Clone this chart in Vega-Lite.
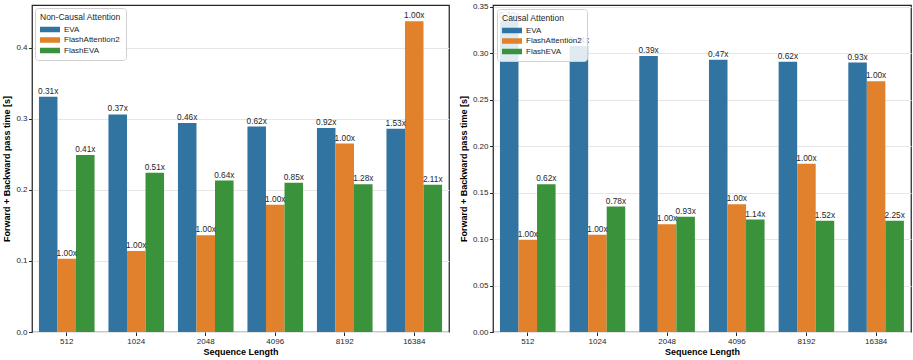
{
  "$schema": "https://vega.github.io/schema/vega-lite/v6.json",
  "padding": {"left": 2, "top": 2, "right": 4, "bottom": 0},
  "background": "white",
  "datasets": {
    "nc": [
      {"len": 512, "method": "EVA", "time": 0.331, "label": "0.31x"},
      {"len": 512, "method": "FlashAttention2", "time": 0.103, "label": "1.00x"},
      {"len": 512, "method": "FlashEVA", "time": 0.249, "label": "0.41x"},
      {"len": 1024, "method": "EVA", "time": 0.306, "label": "0.37x"},
      {"len": 1024, "method": "FlashAttention2", "time": 0.114, "label": "1.00x"},
      {"len": 1024, "method": "FlashEVA", "time": 0.224, "label": "0.51x"},
      {"len": 2048, "method": "EVA", "time": 0.294, "label": "0.46x"},
      {"len": 2048, "method": "FlashAttention2", "time": 0.136, "label": "1.00x"},
      {"len": 2048, "method": "FlashEVA", "time": 0.213, "label": "0.64x"},
      {"len": 4096, "method": "EVA", "time": 0.289, "label": "0.62x"},
      {"len": 4096, "method": "FlashAttention2", "time": 0.179, "label": "1.00x"},
      {"len": 4096, "method": "FlashEVA", "time": 0.21, "label": "0.85x"},
      {"len": 8192, "method": "EVA", "time": 0.287, "label": "0.92x"},
      {"len": 8192, "method": "FlashAttention2", "time": 0.265, "label": "1.00x"},
      {"len": 8192, "method": "FlashEVA", "time": 0.208, "label": "1.28x"},
      {"len": 16384, "method": "EVA", "time": 0.286, "label": "1.53x"},
      {"len": 16384, "method": "FlashAttention2", "time": 0.437, "label": "1.00x"},
      {"len": 16384, "method": "FlashEVA", "time": 0.207, "label": "2.11x"}
    ],
    "c": [
      {"len": 512, "method": "EVA", "time": 0.335, "label": "0.30x"},
      {"len": 512, "method": "FlashAttention2", "time": 0.099, "label": "1.00x"},
      {"len": 512, "method": "FlashEVA", "time": 0.159, "label": "0.62x"},
      {"len": 1024, "method": "EVA", "time": 0.308, "label": "0.34x"},
      {"len": 1024, "method": "FlashAttention2", "time": 0.1046, "label": "1.00x"},
      {"len": 1024, "method": "FlashEVA", "time": 0.135, "label": "0.78x"},
      {"len": 2048, "method": "EVA", "time": 0.297, "label": "0.39x"},
      {"len": 2048, "method": "FlashAttention2", "time": 0.116, "label": "1.00x"},
      {"len": 2048, "method": "FlashEVA", "time": 0.124, "label": "0.93x"},
      {"len": 4096, "method": "EVA", "time": 0.293, "label": "0.47x"},
      {"len": 4096, "method": "FlashAttention2", "time": 0.1376, "label": "1.00x"},
      {"len": 4096, "method": "FlashEVA", "time": 0.121, "label": "1.14x"},
      {"len": 8192, "method": "EVA", "time": 0.291, "label": "0.62x"},
      {"len": 8192, "method": "FlashAttention2", "time": 0.181, "label": "1.00x"},
      {"len": 8192, "method": "FlashEVA", "time": 0.1197, "label": "1.52x"},
      {"len": 16384, "method": "EVA", "time": 0.29, "label": "0.93x"},
      {"len": 16384, "method": "FlashAttention2", "time": 0.27, "label": "1.00x"},
      {"len": 16384, "method": "FlashEVA", "time": 0.1197, "label": "2.25x"}
    ]
  },
  "spacing": 8,
  "resolve": {"legend": {"color": "independent"}, "scale": {"y": "independent"}},
  "hconcat": [
    {
      "width": 417,
      "height": 327,
      "data": {"name": "nc"},
      "encoding": {
        "x": {"field": "len", "type": "ordinal", "title": "Sequence Length",
              "scale": {"paddingInner": 0.2, "paddingOuter": 0.1},
              "axis": {"labelAngle": 0}},
        "xOffset": {"field": "method", "type": "nominal", "sort": ["EVA", "FlashAttention2", "FlashEVA"],
                    "scale": {"paddingInner": 0, "paddingOuter": 0}},
        "y": {"field": "time", "type": "quantitative", "title": "Forward + Backward pass time [s]",
              "scale": {"domain": [0, 0.46], "nice": false},
              "axis": {"values": [0, 0.1, 0.2, 0.3, 0.4], "format": ".1f"}}
      },
      "layer": [
        {
          "mark": {"type": "bar"},
          "encoding": {
            "color": {"field": "method", "type": "nominal", "title": "Non-Causal Attention",
                      "scale": {"domain": ["EVA", "FlashAttention2", "FlashEVA"], "range": ["#3274a1", "#e1812c", "#3a923a"]},
                      "legend": {"orient": "top-left", "offset": 3}}
          }
        },
        {
          "mark": {"type": "text", "baseline": "bottom", "dy": -1, "fontSize": 8.3, "color": "#262626"},
          "encoding": {"text": {"field": "label"}}
        }
      ]
    },
    {
      "width": 418,
      "height": 327,
      "data": {"name": "c"},
      "encoding": {
        "x": {"field": "len", "type": "ordinal", "title": "Sequence Length",
              "scale": {"paddingInner": 0.2, "paddingOuter": 0.1},
              "axis": {"labelAngle": 0}},
        "xOffset": {"field": "method", "type": "nominal", "sort": ["EVA", "FlashAttention2", "FlashEVA"],
                    "scale": {"paddingInner": 0, "paddingOuter": 0}},
        "y": {"field": "time", "type": "quantitative", "title": "Forward + Backward pass time [s]",
              "scale": {"domain": [0, 0.352], "nice": false},
              "axis": {"values": [0, 0.05, 0.1, 0.15, 0.2, 0.25, 0.3, 0.35], "format": ".2f"}}
      },
      "layer": [
        {
          "mark": {"type": "bar"},
          "encoding": {
            "color": {"field": "method", "type": "nominal", "title": "Causal Attention",
                      "scale": {"domain": ["EVA", "FlashAttention2", "FlashEVA"], "range": ["#3274a1", "#e1812c", "#3a923a"]},
                      "legend": {"orient": "top-left", "offset": 4}}
          }
        },
        {
          "mark": {"type": "text", "baseline": "bottom", "dy": -1, "fontSize": 8.3, "color": "#262626"},
          "encoding": {"text": {"field": "label"}}
        }
      ]
    }
  ],
  "config": {
    "font": "Liberation Sans",
    "view": {"stroke": "#262626", "strokeWidth": 1.25},
    "axis": {
      "domain": false,
      "labelFont": "Liberation Sans",
      "labelFontSize": 8,
      "labelColor": "#262626",
      "tickColor": "#262626",
      "tickSize": 3.5,
      "tickWidth": 1,
      "labelPadding": 1.5,
      "titleFont": "Liberation Sans",
      "titleFontSize": 9,
      "titleFontWeight": "bold",
      "titleColor": "#000000",
      "gridColor": "#e6e6e6",
      "gridWidth": 1
    },
    "axisX": {"grid": false, "titlePadding": 2},
    "axisY": {"grid": true, "titlePadding": 4},
    "legend": {
      "titleFont": "Liberation Sans",
      "titleFontSize": 8.5,
      "titleFontWeight": "normal",
      "titleColor": "#262626",
      "labelFont": "Liberation Sans",
      "labelFontSize": 8,
      "labelColor": "#262626",
      "symbolType": "M-1,-0.55H3V0.55H-1Z",
      "symbolSize": 100,
      "symbolStrokeWidth": 0,
      "symbolOpacity": 1,
      "labelOffset": 14,
      "rowPadding": 1.5,
      "titlePadding": 3,
      "padding": 5,
      "strokeColor": "#d0d0d0",
      "fillColor": "rgba(255,255,255,0.85)",
      "cornerRadius": 3
    }
  }
}
